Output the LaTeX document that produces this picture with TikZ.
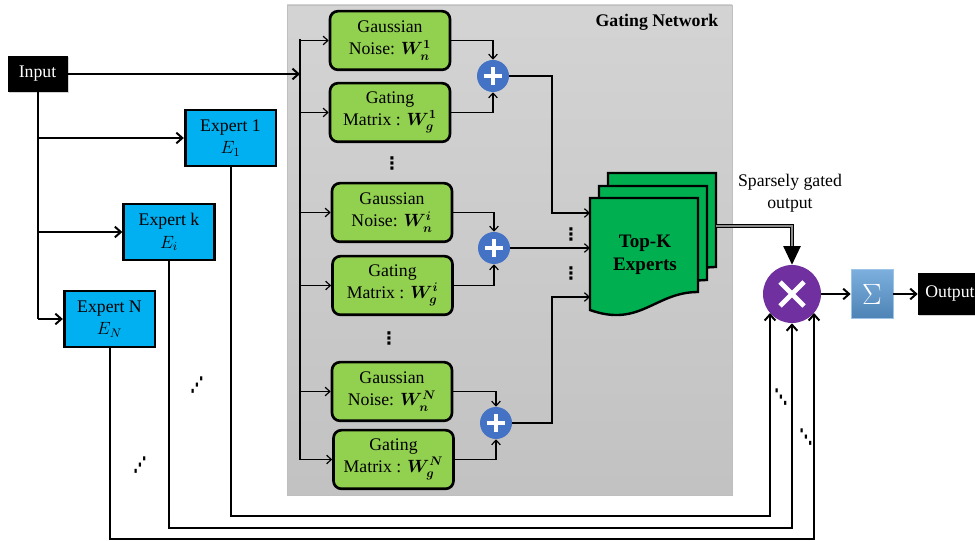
\RequirePackage{fix-cm}
\documentclass[tikz,border=0pt]{standalone}
\usepackage{fontspec}
\setmainfont{Liberation Serif}
\newfontfamily\dejavu{DejaVu Sans}
\usepackage{amsmath}
\usetikzlibrary{arrows.meta,shadows,calc}
\definecolor{expblue}{HTML}{00B0F0}
\definecolor{gatgreen}{HTML}{92D050}
\definecolor{topgreen}{HTML}{00B050}
\definecolor{plusblue}{HTML}{4472C4}
\definecolor{mulpurple}{HTML}{7030A0}
\definecolor{sigblue}{HTML}{5B9BD5}
\begin{document}
\begin{tikzpicture}[x=0.75pt,y=-0.75pt,
  font=\fontsize{13.3}{16.5}\selectfont,
  thk/.style={line width=1.5pt},
  thn/.style={line width=0.9pt},
  arr/.style={-{Straight Barb[length=4.5pt,width=8pt]}},
  sarr/.style={-{Straight Barb[length=3.5pt,width=6.5pt]}},
  blackbox/.style={fill=black, text=white, inner sep=0pt,
    drop shadow={shadow xshift=1pt, shadow yshift=-1pt, opacity=0.35}},
  expbox/.style={draw=black, line width=2pt, fill=expblue, minimum width=68pt,
    minimum height=42pt, align=center, inner sep=1pt, font=\fontsize{13.3}{17}\selectfont},
  gatbox/.style={draw=black, line width=2pt, fill=gatgreen, rounded corners=6pt,
    minimum width=90pt, minimum height=44pt, align=center, inner sep=1pt},
  plusc/.style={circle, fill=plusblue, minimum size=24pt, inner sep=0pt,
    path picture={\draw[white,line width=2.4pt]
      ([xshift=-6.5pt]path picture bounding box.center) -- ([xshift=6.5pt]path picture bounding box.center)
      ([yshift=-6.5pt]path picture bounding box.center) -- ([yshift=6.5pt]path picture bounding box.center);}},
  mulc/.style={circle, fill=mulpurple, minimum size=43.5pt, inner sep=0pt,
    path picture={\draw[white,line width=3.5pt]
      ([shift={(-9pt,-9pt)}]path picture bounding box.center) -- ([shift={(9pt,9pt)}]path picture bounding box.center)
      ([shift={(-9pt,9pt)}]path picture bounding box.center) -- ([shift={(9pt,-9pt)}]path picture bounding box.center);}},
  topdoc/.style={draw=black, line width=1.8pt, fill=topgreen},
  dotsnode/.style={inner sep=0pt, font=\dejavu\bfseries\fontsize{13}{13}\selectfont},
  ddotsnode/.style={inner sep=0pt, font=\dejavu\bfseries\fontsize{16}{16}\selectfont}
]
\useasboundingbox (0,0) rectangle (975,541);

% gating network background
\fill[top color=black!17, bottom color=black!24, draw=black!25, line width=0.6pt]
  (287,5) rectangle (732,495);
\node[font=\bfseries\fontsize{13.3}{16}\selectfont, anchor=east] (gtitle) at (723,22) {Gating Network};

% input and experts
\node[blackbox, minimum width=45pt, minimum height=27pt] (in) at (37.5,74) {Input};
\node[expbox] (e1) at (230.5,138) {Expert 1\\$E_1$};
\node[expbox] (ek) at (169,232) {Expert k\\$E_i$};
\node[expbox] (en) at (109.5,319) {Expert N\\$E_N$};

% gating boxes
\node[gatbox] (gn1) at (390,40.5) {Gaussian\\Noise: $\boldsymbol{W_n^1}$};
\node[gatbox] (gm1) at (390,112.5) {Gating\\Matrix : $\boldsymbol{W_g^1}$};
\node[gatbox] (gni) at (392,212.5) {Gaussian\\Noise: $\boldsymbol{W_n^i}$};
\node[gatbox] (gmi) at (392.5,285.5) {Gating\\Matrix : $\boldsymbol{W_g^i}$};
\node[gatbox] (gnn) at (392,391.5) {Gaussian\\Noise: $\boldsymbol{W_n^N}$};
\node[gatbox] (gmn) at (393.5,459.5) {Gating\\Matrix : $\boldsymbol{W_g^N}$};
\node[dotsnode] (d1) at (392,163) {⋮};
\node[dotsnode] (d2) at (389,338) {⋮};

% plus nodes
\node[plusc] (p1) at (493,76) {};
\node[plusc] (pi) at (494,248) {};
\node[plusc] (pn) at (496,423) {};

% top-k experts pages
\foreach \dx/\dy in {18/-25, 9/-12, 0/0}{
  \filldraw[topdoc] (590+\dx,198+\dy) -- (698+\dx,198+\dy) -- (698+\dx,292+\dy)
    .. controls (655+\dx,292+\dy) and (640+\dx,328+\dy) .. (590+\dx,310+\dy) -- cycle;
}
\node[font=\bfseries\fontsize{14.3}{17}\selectfont, align=center] (tk) at (645,255) {Top-K\\Experts};
\node[dotsnode] (d3) at (571,234) {⋮};
\node[dotsnode] (d4) at (571,273) {⋮};

% multiply, sum, output
\node[mulc] (mul) at (792,294) {};
\node[top color=sigblue!80!white, bottom color=sigblue!85!black, draw=sigblue!60!white,
  line width=0.5pt, minimum width=31.5pt, minimum height=36.5pt, text=white, inner sep=0pt,
  font=\fontsize{22}{22}\selectfont] (sig) at (872,294) {$\Sigma$};
\node[blackbox, minimum width=48pt, minimum height=31pt] (out) at (950,294) {Output};
\node[align=center, font=\fontsize{13.3}{16.5}\selectfont] (sgo) at (790,193) {Sparsely gated\\output};

% coordinates
\coordinate (gv) at (300,39);
\coordinate (gvb) at (300,460);
\coordinate (bus) at (552,0);
\coordinate (tkl) at (590,0);
\coordinate (tkin1) at (590,213);
\coordinate (tkin3) at (590,297);
\coordinate (h1) at (0,516);
\coordinate (h2) at (0,528);
\coordinate (h3) at (0,539);
\coordinate (m1) at (770,313);
\coordinate (m3) at (814,313);
\coordinate (dstart) at (716,226);
\coordinate (dend) at (792,247);

% input wiring
\draw[thk,arr] (in.east) -- (in.east -| gv);
\draw[thk] (in.south) -- (in.south |- en.west);
\draw[thk,arr] (in.south |- e1.west) -- (e1.west);
\draw[thk,arr] (in.south |- ek.west) -- (ek.west);
\draw[thk,arr] (in.south |- en.west) -- (en.west);

% gating wiring
\draw[thn] (gv) -- (gvb);
\foreach \b in {gn1,gm1,gni,gmi,gnn,gmn}{
  \draw[thn,sarr] (\b.west -| gv) -- (\b.west);
}
\draw[thn,sarr] (gn1.east) -| (p1.north);
\draw[thn,sarr] (gm1.east) -| (p1.south);
\draw[thn,sarr] (gni.east) -| (pi.north);
\draw[thn,sarr] (gmi.east) -| (pi.south);
\draw[thn,sarr] (gnn.east) -| (pn.north);
\draw[thn,sarr] (gmn.east) -| (pn.south);
\draw[thn,sarr] (p1.east) -- (p1.east -| bus) |- (tkin1);
\draw[thn,sarr] (pi.east) -- (pi.east -| tkl);
\draw[thn,sarr] (pn.east) -- (pn.east -| bus) |- (tkin3);

% experts to multiply
\draw[thk,arr] (e1.south) -- (e1.south |- h1) -| (m1);
\draw[thk,arr] (ek.south) -- (ek.south |- h2) -| (mul.south);
\draw[thk,arr] (en.south) -- (en.south |- h3) -| (m3);

% sparsely gated output
\draw[line width=0.6pt, draw=black, double=black!45, double distance=1.6pt] (dstart) -| (dend);
\draw[line width=1pt, -{Triangle[length=14pt,width=13pt]}] (dend) -- (mul.north);

% multiply -> sum -> output
\draw[thk,arr] (mul.east) -- (sig.west);
\draw[thk,arr] (sig.east) -- (out.west);

% ellipsis marks
\node[ddotsnode] (d5) at (197,385) {\scalebox{0.6}[1]{⋰}};
\node[ddotsnode] (d6) at (140,465) {\scalebox{0.6}[1]{⋰}};
\node[ddotsnode] (d7) at (781,397) {\scalebox{0.6}[1]{⋱}};
\node[ddotsnode] (d8) at (806,437) {\scalebox{0.6}[1]{⋱}};
\end{tikzpicture}
\end{document}
